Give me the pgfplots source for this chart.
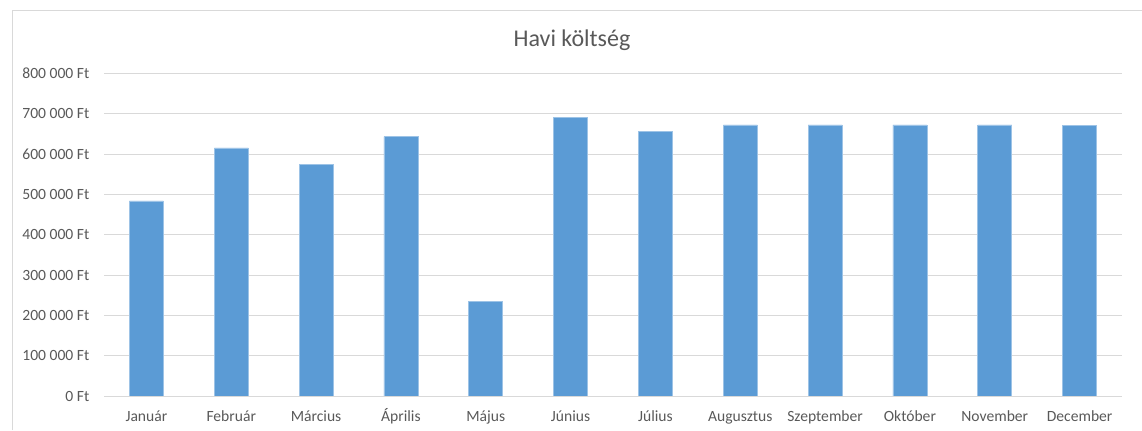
\documentclass[border=0pt]{standalone}
\usepackage{fontspec}
\setmainfont{Carlito}
\usepackage{pgfplots}
\pgfplotsset{compat=1.18}
\definecolor{barblue}{HTML}{5B9BD5}
\definecolor{gridgray}{HTML}{D9D9D9}
\definecolor{txtgray}{HTML}{595959}
\begin{document}
\begin{tikzpicture}
\useasboundingbox (0,0) rectangle (856.5pt,322.5pt);
\draw[gridgray, line width=0.75pt] (9.2pt,0) -- (9.2pt,314.8pt) -- (856.5pt,314.8pt);
\node[txtgray, font=\fontsize{18pt}{20pt}\selectfont] at (429pt,292pt) {Havi költség};
\begin{axis}[
  at={(78pt,25.5pt)}, anchor=south west,
  scale only axis, width=763.5pt, height=242pt,
  xmin=-0.5, xmax=11.5, ymin=0, ymax=800000,
  axis line style={draw=none},
  ymajorgrids, grid style={gridgray, line width=0.75pt},
  ytick={0,100000,200000,300000,400000,500000,600000,700000,800000},
  yticklabels={0 Ft,100 000 Ft,200 000 Ft,300 000 Ft,400 000 Ft,500 000 Ft,600 000 Ft,700 000 Ft,800 000 Ft},
  xtick={0,...,11},
  xticklabels={Január,Február,Március,Április,Május,Június,Július,Augusztus,Szeptember,Október,November,December},
  tick label style={txtgray, font=\fontsize{11.7pt}{13pt}\selectfont},
  yticklabel style={xshift=-7.5pt},
  xticklabel style={anchor=base, yshift=-19pt},
  major tick length=0pt,
  scaled y ticks=false,
  clip=false,
]
\addplot[ybar, bar width=25.5pt, fill=barblue, draw=barblue!60!white, line width=0.4pt] coordinates {
(0,484000) (1,615000) (2,574500) (3,643000) (4,235500) (5,690000)
(6,656000) (7,672000) (8,672000) (9,672000) (10,672000) (11,671000)
};
\draw[gridgray, line width=0.75pt] (axis cs:-0.5,0) -- (axis cs:11.5,0);
\end{axis}
\end{tikzpicture}
\end{document}
